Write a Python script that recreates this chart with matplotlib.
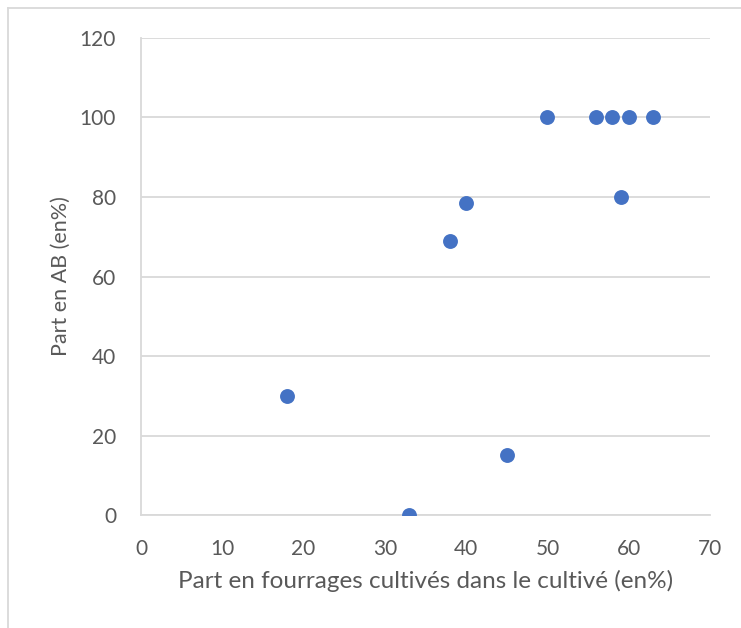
import matplotlib.pyplot as plt
from matplotlib.lines import Line2D

# part of cultivated forage vs share of organic (AB) production, in %
fourrages = [18, 33, 38, 40, 45, 50, 56, 58, 59, 60, 63]
part_ab = [30, 0, 69, 78.6, 15, 100, 100, 100, 80, 100, 100]

x_ticks = [0, 10, 20, 30, 40, 50, 60, 70]
y_ticks = [0, 20, 40, 60, 80, 100, 120]

plt.rcParams['font.family'] = ['Lato', 'DejaVu Sans']
text_color = '#595959'
grid_color = '#d9d9d9'

fig = plt.figure(figsize=(7.41, 6.28), dpi=100)
ax = fig.add_axes([0.1903, 0.1799, 0.7679, 0.7596])

ax.scatter(fourrages, part_ab, s=115, color='#4472c4', zorder=3, linewidths=0)

ax.set_xlim(0, 70)
ax.set_ylim(0, 120)
ax.set_xticks(x_ticks)
ax.set_yticks(y_ticks)
ax.tick_params(axis='y', length=0, labelsize=15, labelcolor=text_color, pad=18)
ax.tick_params(axis='x', length=0, labelsize=15, labelcolor=text_color, pad=17)
ax.grid(True, axis='y', color=grid_color, linewidth=1.3)
ax.set_axisbelow(True)

for side in ['top', 'right']:
    ax.spines[side].set_visible(False)
for side in ['left', 'bottom']:
    ax.spines[side].set_color(grid_color)
    ax.spines[side].set_linewidth(1.3)

ax.set_xlabel('Part en fourrages cultivés dans le cultivé (en%)', fontsize=17.5,
              color=text_color)
ax.set_ylabel('Part en AB (en%)', fontsize=15.5, color=text_color)
ax.xaxis.set_label_coords(0.5, -0.116)
ax.yaxis.set_label_coords(-0.124, 0.5)

# chart frame (top and left edges)
fig.add_artist(Line2D([8 / 741, 1], [1 - 8 / 628, 1 - 8 / 628],
                      transform=fig.transFigure, color=grid_color, linewidth=1.3))
fig.add_artist(Line2D([8 / 741, 8 / 741], [0, 1 - 8 / 628],
                      transform=fig.transFigure, color=grid_color, linewidth=1.3))

fig.savefig('out.png', dpi=100)
